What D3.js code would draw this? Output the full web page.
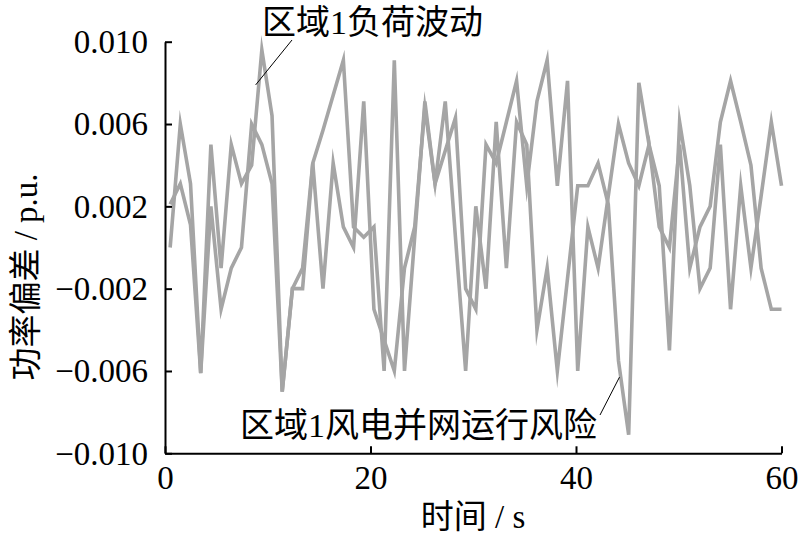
<!DOCTYPE html>
<html>
<head>
<meta charset="utf-8">
<script src="https://cdn.jsdelivr.net/npm/d3@7"></script>
<style>
  html, body { margin: 0; padding: 0; background: #fff; }
  svg { display: block; }
</style>
</head>
<body>
<svg id="chart" width="800" height="538"></svg>
<script>
// ---- data ----
const sampleCount = 61;
const times = d3.range(sampleCount).map(i => 0.5 + i * 59.5 / 60);
const loadFluctuation = [
  0.0000, 0.0060, 0.0031, -0.0061, 0.0050, -0.0010, 0.0050, 0.0031, 0.0040, 0.0096,
  0.0064, -0.0070, -0.0020, -0.0020, 0.0041, 0.0057, 0.0074, 0.0091, 0.0010, 0.0005,
  0.0010, -0.0060, 0.0091, -0.0060, 0.0005, 0.0071, 0.0031, 0.0047, 0.0063, -0.0020,
  -0.0030, 0.0050, 0.0041, 0.0061, 0.0081, 0.0030, 0.0071, 0.0091, 0.0030, 0.0081,
  -0.0060, 0.0010, -0.0010, 0.0025, 0.0060, 0.0041, 0.0030, 0.0050, 0.0010, 0.0000,
  0.0050, -0.0010, 0.0010, 0.0020, 0.0061, 0.0081, 0.0061, 0.0040, -0.0010, -0.0030,
  -0.0030
];
const windRisk = [
  0.0021, 0.0031, 0.0011, -0.0061, 0.0020, -0.0030, -0.0010, 0.0000, 0.0060, 0.0050,
  0.0031, -0.0070, -0.0020, -0.0010, 0.0041, -0.0020, 0.0041, 0.0010, 0.0000, 0.0071,
  -0.0030, -0.0045, -0.0060, -0.0010, 0.0010, 0.0068, 0.0031, 0.0071, 0.0005, -0.0060,
  0.0020, -0.0020, 0.0061, -0.0010, 0.0061, 0.0050, -0.0040, -0.0010, -0.0060, -0.0015,
  0.0030, 0.0030, 0.0041, 0.0021, -0.0055, -0.0091, 0.0080, 0.0050, 0.0030, -0.0050,
  0.0061, 0.0030, -0.0020, -0.0010, 0.0050, -0.0030, 0.0030, -0.0010, 0.0025, 0.0061,
  0.0030
];
const xTicks = [0, 20, 40, 60];
const yTicks = [0.010, 0.006, 0.002, -0.002, -0.006, -0.010];
const xTitle = "时间 / s";
const yTitle = "功率偏差 / p.u.";
const loadLabel = "区域1负荷波动";
const windLabel = "区域1风电并网运行风险";

// ---- layout ----
const svg = d3.select("#chart");
const mLeft = 165, mRight = 781.5, mTop = 41.7, mBottom = 453.3;
const x = d3.scaleLinear().domain([0, 60]).range([mLeft, mRight]);
const y = d3.scaleLinear().domain([-0.010, 0.010]).range([mBottom, mTop]);
const serif = "'Liberation Serif', 'Times New Roman', 'Noto Sans CJK SC', serif";
const fs = 33;

const fmtY = v => (v < 0 ? "\u2212" : "") + Math.abs(v).toFixed(3);

// series
const line = d3.line().x((d, i) => x(times[i])).y(d => y(d));
[loadFluctuation, windRisk].forEach(series => {
  svg.append("path")
    .datum(series)
    .attr("d", line)
    .attr("fill", "none")
    .attr("stroke", "#a5a5a5")
    .attr("stroke-width", 3.6)
    .attr("stroke-linejoin", "miter")
    .attr("stroke-miterlimit", 10);
});

// axes
const yAxis = d3.axisLeft(y).tickValues(yTicks).tickFormat(fmtY)
  .tickSizeInner(-7).tickSizeOuter(0).tickPadding(17);
const xAxis = d3.axisBottom(x).tickValues(xTicks).tickFormat(d3.format("d"))
  .tickSizeInner(-7).tickSizeOuter(0).tickPadding(12);

const gy = svg.append("g").attr("transform", `translate(${mLeft},0)`).call(yAxis);
const gx = svg.append("g").attr("transform", `translate(0,${mBottom})`).call(xAxis);
[gx, gy].forEach(g => {
  g.select(".domain").attr("stroke", "#000").attr("stroke-width", 2);
  g.selectAll(".tick line").attr("stroke", "#000").attr("stroke-width", 2);
  g.selectAll(".tick text")
    .attr("fill", "#000")
    .style("font-family", serif)
    .style("font-size", fs + "px");
});
gy.selectAll(".tick text").attr("dy", "0.33em");

// axis titles
svg.append("text")
  .attr("x", 473).attr("y", 528)
  .attr("text-anchor", "middle")
  .style("font-family", serif).style("font-size", "33px")
  .text(xTitle);

svg.append("text")
  .attr("transform", "translate(37,277) rotate(-90)")
  .attr("text-anchor", "middle")
  .style("font-family", serif).style("font-size", "33px")
  .text(yTitle);

// annotations
const annot = svg.append("g");
annot.append("line")
  .attr("x1", x(times[8]) + 4).attr("y1", y(0.0079))
  .attr("x2", 292).attr("y2", 40)
  .attr("stroke", "#000").attr("stroke-width", 1);
annot.append("text")
  .attr("x", 262).attr("y", 34)
  .style("font-family", serif).style("font-size", "34px")
  .text(loadLabel);

annot.append("line")
  .attr("x1", x(times[44]) + 1).attr("y1", y(-0.0063))
  .attr("x2", 600).attr("y2", 415)
  .attr("stroke", "#000").attr("stroke-width", 1);
annot.append("text")
  .attr("x", 240).attr("y", 437)
  .style("font-family", serif).style("font-size", "34px")
  .text(windLabel);
</script>
</body>
</html>
